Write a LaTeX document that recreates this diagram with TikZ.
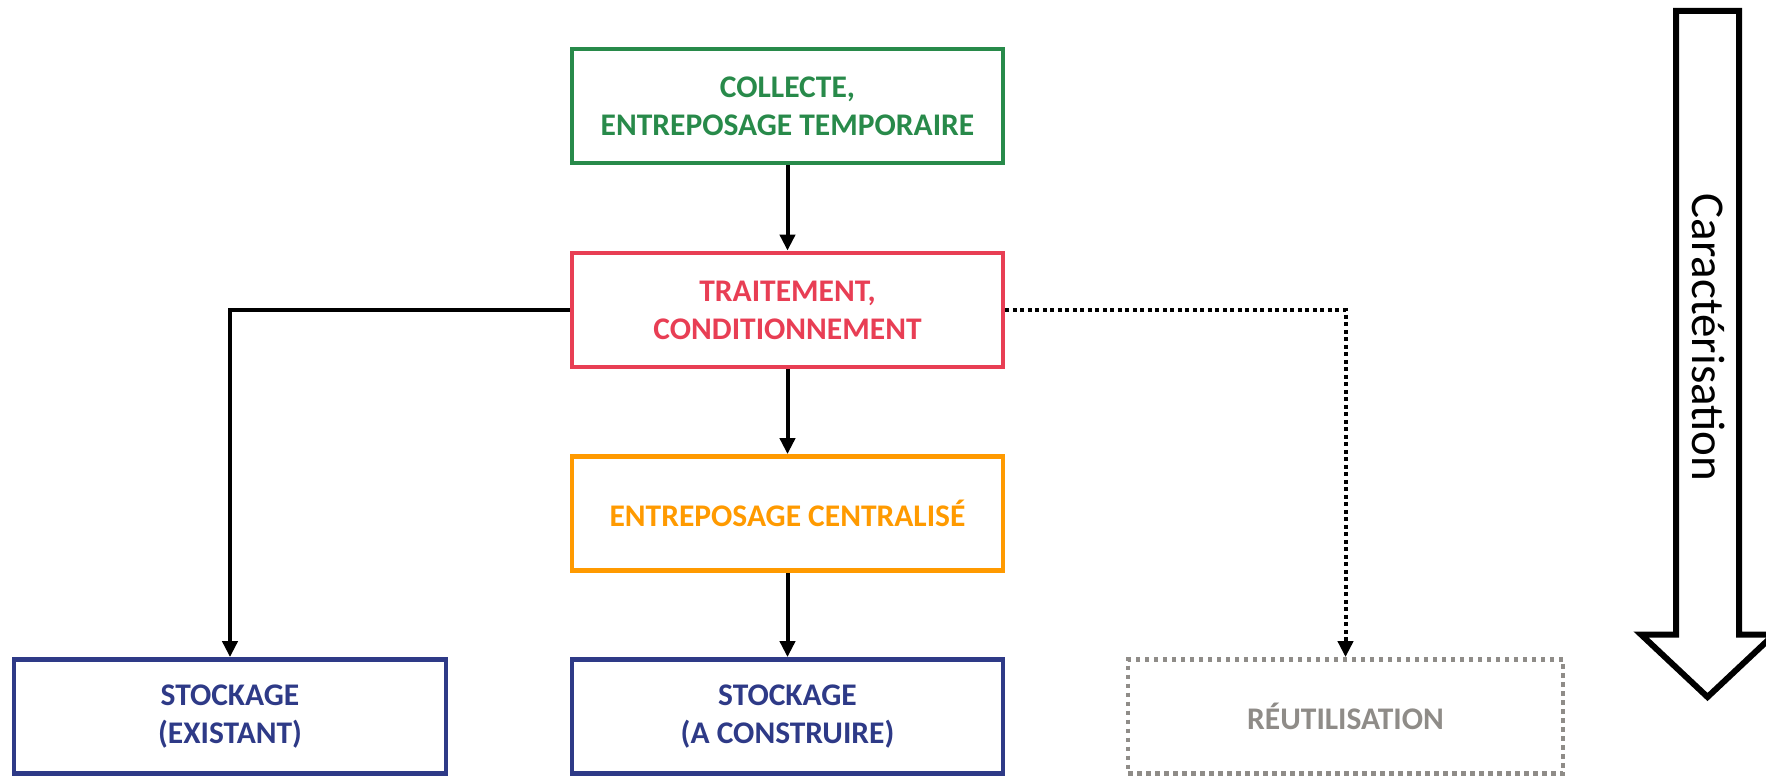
\documentclass[tikz,border=0pt]{standalone}
\usepackage{fontspec}
\setmainfont{Carlito}
\usetikzlibrary{arrows.meta}
\definecolor{cgreen}{RGB}{40,138,74}
\definecolor{cred}{RGB}{232,62,84}
\definecolor{corange}{RGB}{255,154,0}
\definecolor{cnavy}{RGB}{46,58,135}
\definecolor{cgray}{RGB}{143,140,136}
\tikzset{
  box/.style={draw, line width=4.8pt, minimum width=431pt, minimum height=114pt,
    inner sep=0pt, align=center, font=\fontsize{31.5}{38}\selectfont\bfseries},
  link/.style={line width=4pt, -{Triangle[length=16pt,width=15pt]}},
  dotlink/.style={link, dash pattern=on 4pt off 3.5pt},
}
\begin{document}
\begin{tikzpicture}[x=1pt,y=-1pt]
\useasboundingbox (0,0) rectangle (1766,776);
\node[box, draw=cgreen, text=cgreen] (collecte) at (787.5,106) {COLLECTE,\\ENTREPOSAGE TEMPORAIRE};
\node[box, draw=cred, text=cred] (traitement) at (787.5,310) {TRAITEMENT,\\CONDITIONNEMENT};
\node[box, draw=corange, text=corange] (entreposage) at (787.5,513.5) {ENTREPOSAGE CENTRALISÉ};
\node[box, draw=cnavy, text=cnavy] (stockC) at (787.5,716.5) {STOCKAGE\\(A CONSTRUIRE)};
\node[box, draw=cnavy, text=cnavy, minimum width=432pt] (stockE) at (230,716.5) {STOCKAGE\\(EXISTANT)};
\node[box, draw=cgray, text=cgray, minimum width=435pt, dash pattern=on 4.5pt off 4.5pt] (reut) at (1345.5,716.5) {RÉUTILISATION};
\draw[link] (collecte) -- (traitement);
\draw[link] (traitement) -- (entreposage);
\draw[link] (entreposage) -- (stockC);
\draw[link] (traitement.west) -| (stockE.north);
\draw[dotlink] (traitement.east) -| (reut.north);
\draw[line width=6pt, fill=white, line join=miter] (1676,11) -- (1739,11) -- (1739,634.5) -- (1774,634.5) -- (1707.5,697) -- (1641,634.5) -- (1676,634.5) -- cycle;
\node[rotate=-90, anchor=base, inner sep=0pt, font=\fontsize{47}{56}\selectfont] (carac) at (1692,337.5) {Caractérisation};
\end{tikzpicture}
\end{document}
